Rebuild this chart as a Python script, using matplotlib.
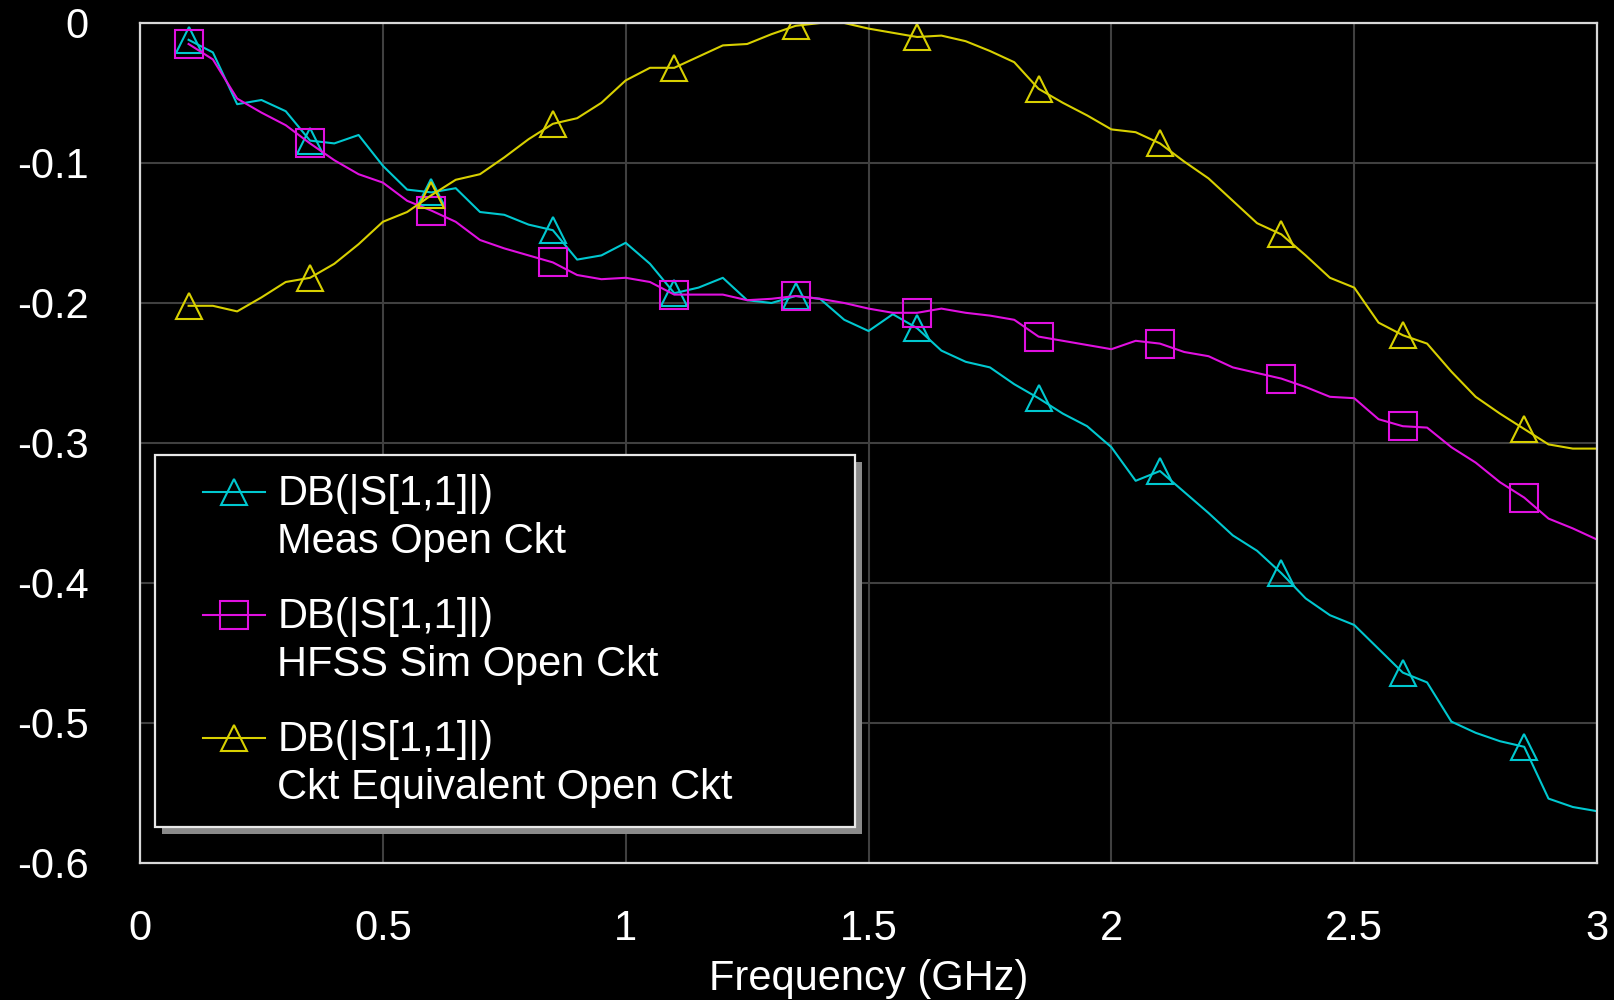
"""Recreate the AWR-style S11 plot: measured vs HFSS vs circuit-equivalent open circuit."""
import matplotlib
matplotlib.use("Agg")
import matplotlib.pyplot as plt
from matplotlib.lines import Line2D
from matplotlib.legend_handler import HandlerLine2D
from matplotlib.patches import Rectangle

plt.rcParams["font.family"] = ["Liberation Sans", "DejaVu Sans"]
plt.rcParams["axes.unicode_minus"] = False

# frequency points (GHz) at 50 MHz steps
FREQ = [0.10, 0.15, 0.20, 0.25, 0.30, 0.35, 0.40, 0.45, 0.50, 0.55,
        0.60, 0.65, 0.70, 0.75, 0.80, 0.85, 0.90, 0.95, 1.00, 1.05,
        1.10, 1.15, 1.20, 1.25, 1.30, 1.35, 1.40, 1.45, 1.50, 1.55,
        1.60, 1.65, 1.70, 1.75, 1.80, 1.85, 1.90, 1.95, 2.00, 2.05,
        2.10, 2.15, 2.20, 2.25, 2.30, 2.35, 2.40, 2.45, 2.50, 2.55,
        2.60, 2.65, 2.70, 2.75, 2.80, 2.85, 2.90, 2.95, 3.00]

MEAS = [-0.012, -0.021, -0.058, -0.055, -0.063, -0.084, -0.086, -0.080, -0.102, -0.119,
        -0.121, -0.118, -0.135, -0.137, -0.144, -0.148, -0.169, -0.166, -0.157, -0.172,
        -0.193, -0.189, -0.182, -0.198, -0.200, -0.195, -0.197, -0.212, -0.220, -0.208,
        -0.218, -0.234, -0.242, -0.246, -0.258, -0.268, -0.279, -0.288, -0.303, -0.327,
        -0.320, -0.335, -0.350, -0.366, -0.377, -0.393, -0.411, -0.423, -0.430, -0.447,
        -0.464, -0.471, -0.499, -0.507, -0.513, -0.517, -0.554, -0.560, -0.563]

HFSS = [-0.015, -0.026, -0.054, -0.064, -0.073, -0.086, -0.098, -0.108, -0.114, -0.127,
        -0.134, -0.142, -0.155, -0.161, -0.166, -0.171, -0.180, -0.183, -0.182, -0.185,
        -0.194, -0.194, -0.194, -0.198, -0.197, -0.195, -0.197, -0.200, -0.204, -0.207,
        -0.207, -0.204, -0.207, -0.209, -0.212, -0.224, -0.227, -0.230, -0.233, -0.227,
        -0.229, -0.235, -0.238, -0.246, -0.250, -0.254, -0.260, -0.267, -0.268, -0.283,
        -0.288, -0.289, -0.303, -0.314, -0.328, -0.339, -0.354, -0.361, -0.369]

CKT = [-0.202, -0.202, -0.206, -0.196, -0.185, -0.182, -0.172, -0.158, -0.142, -0.135,
       -0.123, -0.112, -0.108, -0.096, -0.083, -0.072, -0.068, -0.057, -0.041, -0.032,
       -0.032, -0.024, -0.016, -0.015, -0.008, -0.002, 0.000, 0.000, -0.004, -0.007,
       -0.010, -0.009, -0.013, -0.020, -0.028, -0.047, -0.057, -0.066, -0.076, -0.078,
       -0.086, -0.099, -0.111, -0.127, -0.143, -0.151, -0.166, -0.182, -0.189, -0.214,
       -0.223, -0.229, -0.249, -0.267, -0.279, -0.290, -0.301, -0.304, -0.304]

LABELS = ["DB(|S[1,1]|)\nMeas Open Ckt",
          "DB(|S[1,1]|)\nHFSS Sim Open Ckt",
          "DB(|S[1,1]|)\nCkt Equivalent Open Ckt"]
XTICKS = [0, 0.5, 1, 1.5, 2, 2.5, 3]
XTICKLABELS = ["0", "0.5", "1", "1.5", "2", "2.5", "3"]
YTICKS = [0, -0.1, -0.2, -0.3, -0.4, -0.5, -0.6]
YTICKLABELS = ["0", "-0.1", "-0.2", "-0.3", "-0.4", "-0.5", "-0.6"]

CYAN, MAGENTA, YELLOW = "#00c8d0", "#e010e0", "#d8d000"
FS = 30
LINESPACING = 1.27


class FirstLineHandler(HandlerLine2D):
    # the symbol sits next to the first line of the two-line label
    def create_artists(self, legend, orig_handle, xdescent, ydescent,
                       width, height, fontsize, trans):
        y = (height - ydescent) / 2 + 0.5 * LINESPACING * fontsize
        x0 = width - 1.49 * fontsize
        line = Line2D([x0, width], [y, y])
        self.update_prop(line, orig_handle, legend)
        line.set_marker("None")
        mark = Line2D([(x0 + width) / 2], [y])
        self.update_prop(mark, orig_handle, legend)
        mark.set_linestyle("None")
        line.set_transform(trans)
        mark.set_transform(trans)
        return [line, mark]


fig = plt.figure(figsize=(16.15, 10), dpi=100, facecolor="black")
ax = fig.add_axes([0.0867, 0.137, 0.9022, 0.840])
ax.set_facecolor("black")

kw = dict(lw=1.5, mew=1.5, mfc="none", markevery=5)
h1, = ax.plot(FREQ, MEAS, color=CYAN, marker="^", ms=18.5, **kw)
h2, = ax.plot(FREQ, HFSS, color=MAGENTA, marker="s", ms=19.5, **kw)
h3, = ax.plot(FREQ, CKT, color=YELLOW, marker="^", ms=18.5, **kw)

ax.set_xlim(0, 3)
ax.set_ylim(-0.6, 0)
ax.set_xticks(XTICKS, XTICKLABELS)
ax.set_yticks(YTICKS, YTICKLABELS)
ax.tick_params(length=0, labelcolor="white", labelsize=FS)
ax.tick_params(axis="y", pad=37)
ax.tick_params(axis="x", pad=33)
ax.grid(color="#404040", lw=1.5)
ax.set_axisbelow(True)
for s in ax.spines.values():
    s.set_color("#d8d8d8")
    s.set_linewidth(1.6)
ax.set_xlabel("Frequency (GHz)", color="white", fontsize=FS, labelpad=7)

leg = ax.legend([h1, h2, h3], LABELS, loc="lower left",
                bbox_to_anchor=(0.00995, 0.043, 0.481, 0.444), mode="expand",
                borderaxespad=0, borderpad=0.45, labelspacing=0.83,
                handlelength=2.2, handletextpad=0.3, fontsize=FS,
                labelcolor="white", facecolor="black", edgecolor="#e8e8e8",
                fancybox=False, framealpha=1,
                handler_map={Line2D: FirstLineHandler()})
leg.get_frame().set_linewidth(1.6)
for t in leg.get_texts():
    t.set_linespacing(LINESPACING)

# grey drop shadow behind the legend box
fig.canvas.draw()
bb = leg.get_frame().get_window_extent()
(x0, y0), (x1, y1) = ax.transAxes.inverted().transform(
    [[bb.x0 + 7, bb.y0 - 7], [bb.x1 + 7, bb.y1 - 7]])
ax.add_patch(Rectangle((x0, y0), x1 - x0, y1 - y0, transform=ax.transAxes,
                       facecolor="#8a8a8a", edgecolor="none", zorder=4.5,
                       clip_on=False))

fig.savefig("out.png", dpi=100, facecolor="black")
